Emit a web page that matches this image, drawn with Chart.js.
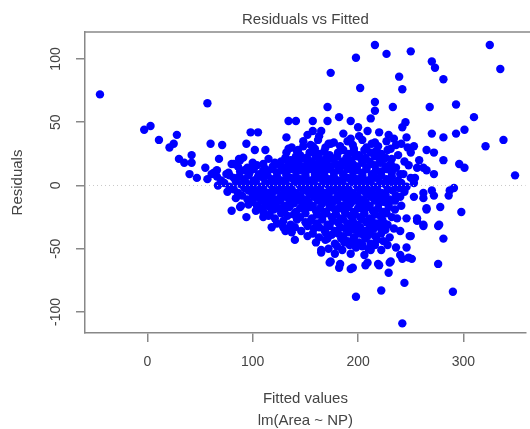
<!DOCTYPE html>
<html>
<head>
<meta charset="utf-8">
<title>Residuals vs Fitted</title>
<script src="https://cdn.jsdelivr.net/npm/chart.js@4.4.1/dist/chart.umd.min.js"></script>
<style>
  html, body { margin: 0; padding: 0; background: #fff; overflow: hidden; }
  #wrap { width: 530px; height: 429px; }
</style>
</head>
<body>
<div id="wrap"><canvas id="residChart" width="530" height="429"></canvas></div>
<script>
  // tick labels
  const xTicks = [0, 100, 200, 300];
  const yTicks = [-100, -50, 0, 50, 100];

  // [fitted, residual] pairs
  const leftPoints = [
    [-45, 72], [-3, 44], [3, 47], [11, 36], [21, 30], [25, 33], [28, 40], [57, 65],
    [30, 21], [35, 18], [42, 24], [42, 18], [40, 9], [47, 6], [55, 14], [60, 33],
    [71, 32], [68, 21], [61, 9], [80, 17], [87, 21], [91, 22], [98, 42], [105, 42],
    [94, 33], [102, 28], [112, 28], [98, 13], [132, 38], [134, 51], [141, 51], [115, 21],
    [121, 18], [77, 10], [66, 12], [96, 12], [134, 29], [143, 28], [132, 26], [140, 21],
    [152, 21], [112, 13], [82, 17], [88, 20]
  ];

  const upperPoints = [
    [216, 111], [198, 101], [227, 104], [250, 106], [325, 111], [270, 98], [273, 93], [174, 89],
    [239, 86], [242, 76], [281, 84], [335, 92], [202, 77], [216, 66], [216, 59], [171, 62],
    [233, 62], [268, 62], [293, 64], [310, 54], [301, 44], [293, 41], [338, 36], [321, 31],
    [349, 8], [182, 54], [157, 51], [171, 51], [193, 51], [212, 53], [245, 50], [242, 46],
    [270, 41], [281, 38], [253, 31], [234, 37], [157, 43], [165, 43], [157, 31], [265, 28],
    [272, 26], [281, 20], [296, 17], [301, 14], [262, 14], [272, 9], [254, 6], [291, -2],
    [200, 46], [209, 43], [220, 42], [174, 33], [193, 37], [256, 14], [265, 12], [225, 21],
    [234, 14], [240, 9], [253, 2]
  ];

  const lowerPoints = [
    [80, -20], [88, -17], [94, -25], [89, -16], [118, -33], [131, -36], [140, -43], [137, -37],
    [115, -24], [112, -16], [129, -33], [242, -109], [198, -88], [222, -83], [244, -77], [290, -84],
    [276, -62], [229, -69], [231, -60], [219, -62], [193, -66], [174, -60], [182, -65], [207, -63],
    [242, -58], [251, -58], [246, -49], [250, -40], [281, -42], [277, -31], [256, -28], [262, -31],
    [265, -18], [298, -21], [278, -17], [262, -6], [272, -8], [287, -4], [286, -8], [276, -32],
    [165, -51], [212, -51], [204, -47], [253, -9], [262, -10], [270, -4], [265, -19], [256, -26],
    [262, -32], [249, -40], [240, -55], [248, -57], [230, -61], [220, -63], [209, -61], [195, -65],
    [183, -62], [173, -61], [165, -53], [178, -54], [193, -54], [206, -55], [228, -47], [199, -47],
    [187, -45], [171, -42], [209, -40], [237, -26], [234, -34], [225, -30]
  ];

  const corePoints = [
    [152, 40], [163, 39], [186, 41], [201, 39], [229, 40], [246, 38],
    [148, 35], [162, 36], [177, 34], [190, 35], [204, 36], [216, 34], [227, 35], [241, 33],
    [137, 30], [148, 31], [159, 29], [169, 30], [183, 31], [196, 29], [208, 30], [219, 31], [231, 29], [247, 30],
    [145, 24], [154, 26], [163, 25], [173, 24], [181, 26], [191, 25], [201, 24], [212, 26], [222, 25], [238, 24], [250, 26],
    [127, 19], [136, 20], [146, 21], [156, 19], [165, 20], [175, 21], [185, 19], [193, 20], [203, 21], [211, 19],
    [221, 20], [232, 21], [244, 19], [258, 20],
    [86, 15], [95, 14], [104, 16], [119, 15], [130, 14], [139, 16], [148, 15], [157, 14], [166, 16], [174, 15],
    [183, 14], [191, 16], [199, 15], [208, 14], [216, 16], [226, 15], [236, 14], [248, 16],
    [63, 10], [75, 9], [88, 11], [97, 10], [106, 9], [114, 11], [123, 10], [132, 9], [141, 11], [150, 10],
    [159, 9], [168, 11], [177, 10], [186, 9], [195, 11], [204, 10], [213, 9], [222, 11], [232, 10], [243, 9],
    [57, 5], [70, 4], [82, 6], [92, 5], [101, 4], [110, 6], [118, 5], [127, 4], [136, 6], [145, 5], [154, 4],
    [163, 6], [172, 5], [181, 4], [190, 6], [199, 5], [208, 4], [217, 6], [227, 5], [238, 4], [250, 6],
    [67, 0], [78, -1], [89, 1], [99, 0], [108, -1], [117, 1], [126, 0], [135, -1], [144, 1], [153, 0],
    [162, -1], [171, 1], [180, 0], [189, -1], [198, 1], [207, 0], [216, -1], [226, 1], [236, 0], [246, -1],
    [76, -5], [86, -6], [96, -4], [105, -5], [114, -6], [123, -4], [132, -5], [141, -6], [150, -4], [159, -5],
    [168, -6], [177, -4], [186, -5], [195, -6], [204, -4], [213, -5], [222, -6], [233, -4], [244, -5],
    [84, -10], [95, -11], [104, -9], [113, -10], [122, -11], [131, -9], [140, -10], [149, -11], [158, -9],
    [167, -10], [176, -11], [185, -9], [194, -10], [203, -11], [212, -9], [221, -10], [230, -11], [240, -9],
    [96, -15], [104, -16], [112, -14], [121, -15], [130, -16], [139, -14], [148, -15], [157, -16], [166, -14],
    [175, -15], [184, -16], [193, -14], [202, -15], [211, -16], [220, -14], [229, -15], [241, -16],
    [103, -20], [110, -21], [120, -19], [130, -20], [141, -21], [150, -19], [160, -20], [169, -21], [178, -19],
    [187, -20], [196, -21], [205, -19], [214, -20], [224, -21], [235, -19],
    [110, -25], [121, -26], [133, -24], [145, -25], [156, -26], [166, -24], [175, -25], [184, -26], [193, -24],
    [202, -25], [211, -26], [221, -24], [232, -25], [246, -26],
    [123, -30], [136, -31], [150, -29], [161, -30], [171, -31], [181, -29], [190, -30], [199, -31], [208, -29],
    [218, -30], [228, -31],
    [134, -35], [146, -36], [158, -34], [168, -35], [178, -36], [188, -34], [197, -35], [206, -36], [215, -34],
    [226, -35], [240, -36],
    [152, -40], [163, -41], [175, -39], [186, -40], [196, -41], [205, -39], [216, -40], [230, -41],
    [160, -45], [178, -46], [190, -44], [201, -45], [212, -46], [224, -44],
    [172, -50], [185, -51], [198, -49], [210, -50], [222, -51], [236, -49]
  ];

  // overplotted centre of the cloud, between the rows above
  const coreFill = [
    [155, 32], [172, 33], [195, 32], [213, 33], [236, 32],
    [142, 27], [158, 28], [168, 27], [186, 28], [196, 27], [206, 28], [217, 27], [228, 28],
    [131, 22], [141, 23], [151, 22], [160, 23], [170, 22], [180, 23], [189, 22], [198, 23], [207, 22], [216, 23], [226, 22],
    [100, 18], [110, 17], [124, 17], [134, 18], [143, 17], [152, 18], [161, 17], [170, 18], [179, 17], [187, 18],
    [195, 17], [204, 18], [212, 17], [221, 18], [231, 17],
    [92, 12], [101, 13], [110, 12], [119, 13], [127, 12], [136, 13], [145, 12], [154, 13], [163, 12], [172, 13],
    [181, 12], [190, 13], [199, 12], [208, 13], [217, 12], [227, 13],
    [66, 7], [78, 8], [87, 7], [96, 8], [105, 7], [114, 8], [123, 7], [132, 8], [141, 7], [150, 8],
    [159, 7], [168, 8], [177, 7], [186, 8], [195, 7], [204, 8], [213, 7], [222, 8], [232, 7],
    [73, 2], [84, 3], [94, 2], [103, 3], [112, 2], [122, 3], [131, 2], [140, 3], [149, 2], [158, 3],
    [167, 2], [176, 3], [185, 2], [194, 3], [203, 2], [212, 3], [221, 2], [231, 3], [241, 2],
    [82, -3], [92, -2], [101, -3], [110, -2], [119, -3], [128, -2], [137, -3], [146, -2], [155, -3], [164, -2],
    [173, -3], [182, -2], [191, -3], [200, -2], [209, -3], [218, -2], [228, -3], [239, -2],
    [90, -8], [100, -7], [109, -8], [118, -7], [127, -8], [136, -7], [145, -8], [154, -7], [163, -8], [172, -7],
    [181, -8], [190, -7], [199, -8], [208, -7], [217, -8], [226, -7], [236, -8],
    [100, -13], [108, -12], [117, -13], [126, -12], [135, -13], [144, -12], [153, -13], [162, -12], [171, -13],
    [180, -12], [189, -13], [198, -12], [207, -13], [216, -12], [225, -13], [235, -12],
    [107, -18], [116, -17], [125, -18], [135, -17], [145, -18], [155, -17], [164, -18], [173, -17], [182, -18],
    [191, -17], [200, -18], [209, -17], [219, -18], [229, -17],
    [116, -23], [127, -22], [139, -23], [150, -22], [161, -23], [170, -22], [179, -23], [188, -22], [197, -23],
    [206, -22], [216, -23], [227, -22],
    [129, -28], [142, -27], [155, -28], [166, -27], [176, -28], [186, -27], [195, -28], [204, -27], [213, -28], [223, -27],
    [140, -33], [152, -32], [163, -33], [173, -32], [183, -33], [193, -32], [202, -33], [211, -32], [221, -33],
    [157, -38], [169, -37], [181, -38], [191, -37], [201, -38], [211, -37], [222, -38],
    [169, -43], [184, -42], [196, -43], [207, -42], [218, -43],
    [180, -48], [192, -47], [204, -48], [216, -47]
  ];

  const xRange = [-59.2, 359.2];
  const yRange = [-116.6, 121.3];

  const lineColor = '#888';
  const textColor = '#444';

  Chart.defaults.font.family = '"Liberation Sans", Arial, sans-serif';
  Chart.defaults.color = textColor;

  const allPoints = [...leftPoints, ...upperPoints, ...lowerPoints, ...corePoints, ...coreFill]
    .map(p => ({ x: p[0], y: p[1] }));

  // R-style box: top edge (left and bottom come from the axes)
  const boxTop = {
    id: 'boxTop',
    afterDraw(chart) {
      const { ctx, chartArea } = chart;
      ctx.save();
      ctx.strokeStyle = lineColor;
      ctx.lineWidth = 1.5;
      ctx.beginPath();
      ctx.moveTo(chartArea.left - 0.75, chartArea.top);
      ctx.lineTo(chart.width, chartArea.top);
      ctx.stroke();
      ctx.restore();
    }
  };

  const ctx = document.getElementById('residChart').getContext('2d');
  new Chart(ctx, {
    type: 'scatter',
    data: {
      datasets: [
        {
          type: 'line',
          label: 'zero',
          data: [{ x: xRange[0], y: 0 }, { x: xRange[1], y: 0 }],
          borderColor: '#c8c8c8',
          borderWidth: 1,
          borderDash: [1, 3],
          pointRadius: 0,
          fill: false
        },
        {
          label: 'Residuals',
          data: allPoints,
          backgroundColor: '#0000ff',
          borderWidth: 0,
          pointRadius: 4.2,
          pointHoverRadius: 4.2
        }
      ]
    },
    options: {
      responsive: false,
      animation: false,
      devicePixelRatio: 1,
      layout: { padding: 0 },
      plugins: {
        legend: { display: false },
        tooltip: { enabled: false },
        title: {
          display: true,
          text: 'Residuals vs Fitted',
          fullSize: false,
          color: textColor,
          font: { size: 15, weight: 'normal' },
          padding: { top: 10.5, bottom: 3.5 }
        }
      },
      scales: {
        x: {
          type: 'linear',
          min: xRange[0],
          max: xRange[1],
          afterBuildTicks: scale => { scale.ticks = xTicks.map(v => ({ value: v })); },
          afterFit: scale => { scale.height = 96; },
          border: { display: true, color: lineColor, width: 1.5 },
          grid: { drawOnChartArea: false, drawTicks: true, tickLength: 9, color: lineColor, lineWidth: 1.5 },
          ticks: { font: { size: 14 }, padding: 12, color: textColor },
          title: {
            display: true,
            text: ['Fitted values', 'lm(Area ~ NP)'],
            color: textColor,
            font: { size: 15, lineHeight: '22px' },
            padding: { top: 0, bottom: -3 }
          }
        },
        y: {
          type: 'linear',
          min: yRange[0],
          max: yRange[1],
          afterBuildTicks: scale => { scale.ticks = yTicks.map(v => ({ value: v })); },
          afterFit: scale => { scale.width = 85; },
          border: { display: true, color: lineColor, width: 1.5 },
          grid: { drawOnChartArea: false, drawTicks: true, tickLength: 9, color: lineColor, lineWidth: 1.5 },
          ticks: {
            font: { size: 14 },
            minRotation: 90,
            maxRotation: 90,
            crossAlign: 'center',
            padding: 6,
            color: textColor
          },
          title: {
            display: true,
            text: 'Residuals',
            color: textColor,
            font: { size: 15 },
            padding: { top: 9, bottom: 0 }
          }
        }
      }
    },
    plugins: [boxTop]
  });
</script>
</body>
</html>
